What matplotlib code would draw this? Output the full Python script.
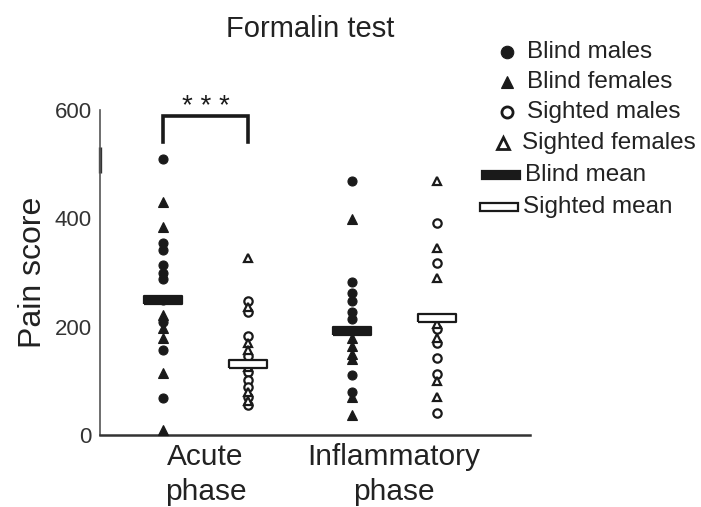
import matplotlib
matplotlib.use("Agg")
import matplotlib.pyplot as plt
from matplotlib.lines import Line2D
from matplotlib.patches import Rectangle

plt.rcParams['font.family'] = ['Liberation Sans', 'DejaVu Sans']

# pain scores per group (acute / inflammatory phase)
blind_acute_males = [509, 354, 341, 314, 300, 288, 249, 209, 157, 68]
blind_acute_females = [430, 384, 222, 198, 180, 114, 9]
sighted_acute_males = [248, 228, 182, 145, 116, 102, 89, 70, 55]
sighted_acute_females = [327, 236, 170, 157, 125, 80, 62]
blind_infl_males = [469, 282, 262, 248, 228, 215, 192, 111, 80]
blind_infl_females = [399, 180, 165, 150, 140, 70, 37]
sighted_infl_males = [391, 318, 196, 170, 142, 112, 40]
sighted_infl_females = [469, 345, 290, 205, 180, 100, 70]
group_means = [249, 131, 192, 216]

phase_labels = ['Acute\nphase', 'Inflammatory\nphase']
yticks = [0, 200, 400, 600]

xpos = [1, 2, 3.22, 4.22]
ink = '#1a1a1a'

fig = plt.figure(figsize=(7.01, 5.07), dpi=100)
ax = fig.add_axes([100 / 701, 1 - 435 / 507, 430 / 701, 325 / 507])

def dots(x, vals, marker, filled, ms):
    ax.plot([x] * len(vals), vals, linestyle='none', marker=marker, ms=ms,
            mfc=ink if filled else 'white', mec=ink, mew=1.6 if not filled else 0.8,
            zorder=3, clip_on=False)

dots(xpos[0], blind_acute_males, 'o', True, 6.5)
dots(xpos[0], blind_acute_females, '^', True, 6.5)
dots(xpos[1], sighted_acute_males, 'o', False, 6.0)
dots(xpos[1], sighted_acute_females, '^', False, 6.0)
dots(xpos[2], blind_infl_males, 'o', True, 6.5)
dots(xpos[2], blind_infl_females, '^', True, 6.5)
dots(xpos[3], sighted_infl_males, 'o', False, 6.0)
dots(xpos[3], sighted_infl_females, '^', False, 6.0)

# mean bars: wide flat rectangles as custom markers
bar_verts = [(-2.5, -0.5), (2.5, -0.5), (2.5, 0.5), (-2.5, 0.5), (-2.5, -0.5)]
for i, (x, m) in enumerate(zip(xpos, group_means)):
    blind = i in (0, 2)
    ax.plot([x], [m], marker=bar_verts, ms=28, mfc=ink if blind else 'white',
            mec=ink, mew=1.6, zorder=4, linestyle='none')

# significance bracket
ax.plot([xpos[0], xpos[0], xpos[1], xpos[1]], [541, 589, 589, 541],
        color=ink, lw=2.6, clip_on=False, solid_joinstyle='miter')
ax.text((xpos[0] + xpos[1]) / 2, 606, '* * *', ha='center', va='center',
        fontsize=20, color=ink, clip_on=False)

ax.set_xlim(1 - 63 / 85, 1 + 367 / 85)
ax.set_ylim(0, 600)
ax.set_yticks(yticks)
ax.set_yticklabels([str(t) for t in yticks], fontsize=16, color='#333333')
ax.tick_params(axis='y', length=0, pad=6)
ax.set_xticks([(xpos[0] + xpos[1]) / 2, (xpos[2] + xpos[3]) / 2])
ax.set_xticklabels(phase_labels, fontsize=21.5, color='#222222', linespacing=1.3)
ax.tick_params(axis='x', length=0, pad=6)
ax.set_ylabel('Pain score', fontsize=23, color='#222222', labelpad=5)
for side in ('top', 'right'):
    ax.spines[side].set_visible(False)
ax.spines['left'].set_color('#555555')
ax.spines['left'].set_linewidth(1.2)
ax.spines['bottom'].set_color('#333333')
ax.spines['bottom'].set_linewidth(1.8)
# darker stretch on the upper y axis
ax.plot([ax.get_xlim()[0]] * 2, [484, 532], color='#333333', lw=2.4,
        clip_on=False, solid_capstyle='butt')

fig.text(310 / 701, 1 - 29 / 507, 'Formalin test', ha='center', va='center',
         fontsize=21, color='#222222')

# legend drawn in figure coordinates
legend_rows = [
    ('Blind males', 'o', True, 52, 507, 527),
    ('Blind females', '^', True, 82, 507, 527),
    ('Sighted males', 'o', False, 112, 507, 527),
    ('Sighted females', '^', False, 143, 503, 522),
]
for label, mk, filled, py, mx, tx in legend_rows:
    fig.add_artist(Line2D([mx / 701], [1 - py / 507], marker=mk, linestyle='none',
                          ms=9 if filled else 8, mfc=ink if filled else 'white',
                          mec=ink, mew=2.0 if not filled else 0.8,
                          transform=fig.transFigure))
    fig.text(tx / 701, 1 - py / 507, label, ha='left', va='center',
             fontsize=17.5, color='#222222')

for label, filled, py, x0, x1, tx in [('Blind mean', True, 175, 482, 520, 525),
                                      ('Sighted mean', False, 207, 480, 518, 523)]:
    fig.add_artist(Rectangle((x0 / 701, 1 - (py + 4) / 507), (x1 - x0) / 701, 8 / 507,
                             facecolor=ink if filled else 'white', edgecolor=ink,
                             lw=1.6, transform=fig.transFigure))
    fig.text(tx / 701, 1 - py / 507, label, ha='left', va='center',
             fontsize=17.5, color='#222222')

fig.savefig('out.png', dpi=100)
